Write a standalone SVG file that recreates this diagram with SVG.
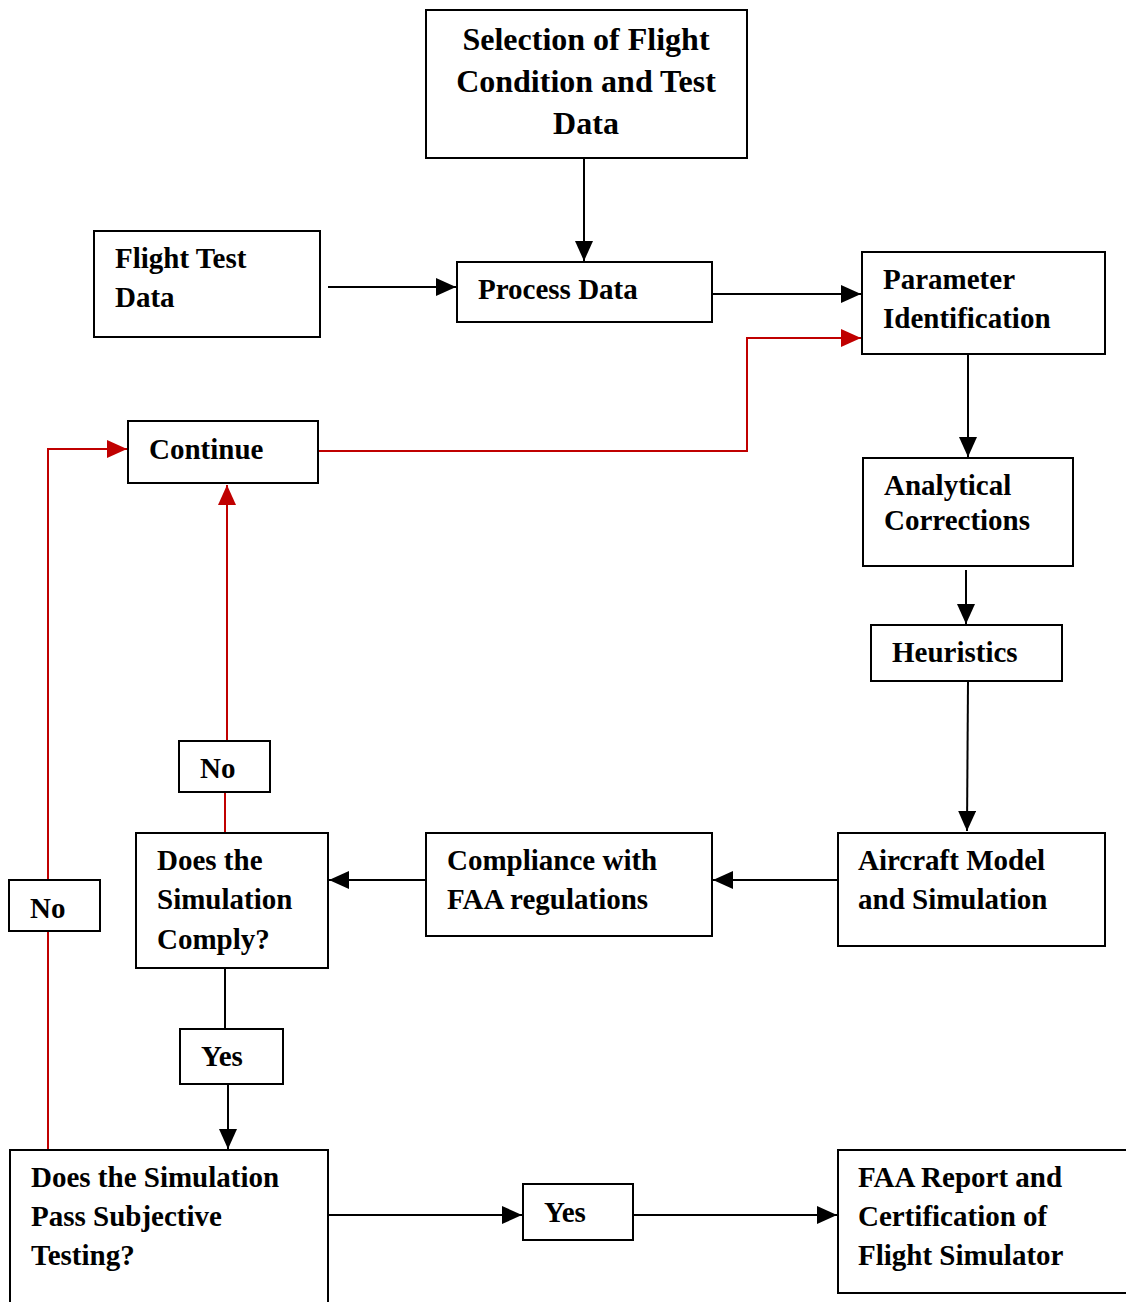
<svg xmlns="http://www.w3.org/2000/svg" width="1126" height="1302" viewBox="0 0 1126 1302">
<style>
.box{fill:#fff;stroke:#000;stroke-width:2}
.t{font-family:"Liberation Serif","Times New Roman",serif;font-weight:bold;font-size:29px;fill:#000}
.big{font-size:32px}
.k{stroke:#000;stroke-width:2;fill:none}
.r{stroke:#c00000;stroke-width:2;fill:none}
</style>
<defs>
<marker id="ak" markerWidth="20" markerHeight="18" refX="20" refY="9" orient="auto" markerUnits="userSpaceOnUse"><path d="M0,0 L20,9 L0,18 Z" fill="#000"/></marker>
<marker id="ar" markerWidth="20" markerHeight="18" refX="20" refY="9" orient="auto" markerUnits="userSpaceOnUse"><path d="M0,0 L20,9 L0,18 Z" fill="#c00000"/></marker>
</defs>
<rect width="1126" height="1302" fill="#fff"/>
<g id="connectors">
<line class="k" x1="584" y1="158" x2="584" y2="261" marker-end="url(#ak)"/>
<line class="k" x1="328" y1="287" x2="456" y2="287" marker-end="url(#ak)"/>
<line class="k" x1="710" y1="294" x2="861" y2="294" marker-end="url(#ak)"/>
<polyline class="r" points="319,451 747,451 747,338 861,338" marker-end="url(#ar)"/>
<line class="k" x1="968" y1="354" x2="968" y2="457" marker-end="url(#ak)"/>
<line class="k" x1="966" y1="570" x2="966" y2="624" marker-end="url(#ak)"/>
<line class="k" x1="968" y1="681" x2="967" y2="831" marker-end="url(#ak)"/>
<line class="k" x1="838" y1="880" x2="713" y2="880" marker-end="url(#ak)"/>
<line class="k" x1="426" y1="880" x2="329" y2="880" marker-end="url(#ak)"/>
<line class="r" x1="225" y1="833" x2="225" y2="792"/>
<line class="r" x1="227" y1="741" x2="227" y2="485" marker-end="url(#ar)"/>
<line class="r" x1="48" y1="1150" x2="48" y2="931"/>
<polyline class="r" points="48,880 48,449 127,449" marker-end="url(#ar)"/>
<line class="k" x1="225" y1="968" x2="225" y2="1029"/>
<line class="k" x1="228" y1="1084" x2="228" y2="1149" marker-end="url(#ak)"/>
<line class="k" x1="328" y1="1215" x2="522" y2="1215" marker-end="url(#ak)"/>
<line class="k" x1="633" y1="1215" x2="837" y2="1215" marker-end="url(#ak)"/>
</g>
<g id="selection">
<rect class="box" x="426" y="10" width="321" height="148"/>
<text class="t big" text-anchor="middle" x="586"><tspan x="586" y="50">Selection of Flight</tspan><tspan x="586" y="92">Condition and Test</tspan><tspan x="586" y="134">Data</tspan></text>
</g>
<g id="flight-test-data">
<rect class="box" x="94" y="231" width="226" height="106"/>
<text class="t"><tspan x="115" y="268">Flight Test</tspan><tspan x="115" y="307">Data</tspan></text>
</g>
<g id="process-data">
<rect class="box" x="457" y="262" width="255" height="60"/>
<text class="t" x="478" y="299">Process Data</text>
</g>
<g id="parameter-identification">
<rect class="box" x="862" y="252" width="243" height="102"/>
<text class="t"><tspan x="883" y="289">Parameter</tspan><tspan x="883" y="328">Identification</tspan></text>
</g>
<g id="analytical-corrections">
<rect class="box" x="863" y="458" width="210" height="108"/>
<text class="t"><tspan x="884" y="495">Analytical</tspan><tspan x="884" y="530">Corrections</tspan></text>
</g>
<g id="heuristics">
<rect class="box" x="871" y="625" width="191" height="56"/>
<text class="t" x="892" y="662">Heuristics</text>
</g>
<g id="aircraft-model">
<rect class="box" x="838" y="833" width="267" height="113"/>
<text class="t"><tspan x="858" y="870">Aircraft Model</tspan><tspan x="858" y="909">and Simulation</tspan></text>
</g>
<g id="compliance">
<rect class="box" x="426" y="833" width="286" height="103"/>
<text class="t"><tspan x="447" y="870">Compliance with</tspan><tspan x="447" y="909">FAA regulations</tspan></text>
</g>
<g id="comply">
<rect class="box" x="136" y="833" width="192" height="135"/>
<text class="t"><tspan x="157" y="870">Does the</tspan><tspan x="157" y="909">Simulation</tspan><tspan x="157" y="949">Comply?</tspan></text>
</g>
<g id="no-1">
<rect class="box" x="179" y="741" width="91" height="51"/>
<text class="t" x="200" y="778">No</text>
</g>
<g id="continue">
<rect class="box" x="128" y="421" width="190" height="62"/>
<text class="t" x="149" y="459">Continue</text>
</g>
<g id="no-2">
<rect class="box" x="9" y="880" width="91" height="51"/>
<text class="t" x="30" y="918">No</text>
</g>
<g id="yes-1">
<rect class="box" x="180" y="1029" width="103" height="55"/>
<text class="t" x="201" y="1066">Yes</text>
</g>
<g id="subjective">
<rect class="box" x="10" y="1150" width="318" height="170"/>
<text class="t"><tspan x="31" y="1187">Does the Simulation</tspan><tspan x="31" y="1226">Pass Subjective</tspan><tspan x="31" y="1265">Testing?</tspan></text>
</g>
<g id="yes-2">
<rect class="box" x="523" y="1184" width="110" height="56"/>
<text class="t" x="544" y="1222">Yes</text>
</g>
<g id="faa-report">
<rect class="box" x="838" y="1150" width="300" height="143"/>
<text class="t"><tspan x="858" y="1187">FAA Report and</tspan><tspan x="858" y="1226">Certification of</tspan><tspan x="858" y="1265">Flight Simulator</tspan></text>
</g>
</svg>
